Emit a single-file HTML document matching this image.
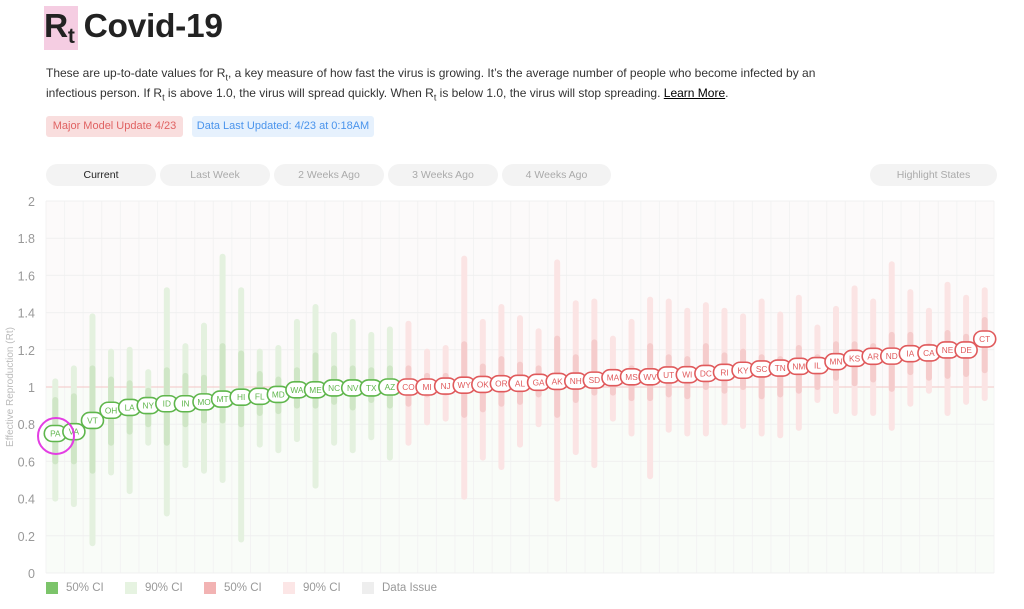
<!DOCTYPE html>
<html><head><meta charset="utf-8">
<style>
body{margin:0;width:1024px;height:609px;background:#fff;font-family:"Liberation Sans",sans-serif;position:relative;overflow:hidden;color:#222}
.abs{position:absolute}
.rt{left:44px;top:6px;width:34px;height:44px;background:#f5cde2}
h1{position:absolute;left:44px;top:5px;margin:0;font-size:33.5px;font-weight:bold;letter-spacing:-0.3px;color:#222;line-height:44px}
h1 sub{font-size:21px;vertical-align:-6px;line-height:0}
p{position:absolute;left:46px;top:63px;margin:0;font-size:12px;line-height:20px;color:#333;width:790px}
p sub{font-size:9px;line-height:0}
.badge{top:116px;height:21px;border-radius:3px;font-size:11px;line-height:21px;text-align:center}
.btn{top:164px;height:22px;border-radius:11px;background:#f3f3f3;font-size:10.5px;line-height:22px;text-align:center;color:#aaa}
.leg{top:582px;width:12px;height:12px}
.lt{top:582px;font-size:11.5px;color:#999}
</style></head><body>
<div class="abs rt"></div>
<h1>R<sub>t</sub> Covid-19</h1>
<p>These are up-to-date values for R<sub>t</sub>, a key measure of how fast the virus is growing. It’s the average number of people who become infected by an infectious person. If R<sub>t</sub> is above 1.0, the virus will spread quickly. When R<sub>t</sub> is below 1.0, the virus will stop spreading. <u style="color:#000">Learn More</u>.</p>
<div class="abs badge" style="left:46px;width:137px;background:#f9dede;color:#e06262">Major Model Update 4/23</div>
<div class="abs badge" style="left:192px;width:182px;background:#e6f1fd;color:#4a94ec">Data Last Updated: 4/23 at 0:18AM</div>
<div class="abs btn" style="left:46px;width:110px;color:#222">Current</div>
<div class="abs btn" style="left:160px;width:110px">Last Week</div>
<div class="abs btn" style="left:274px;width:110px">2 Weeks Ago</div>
<div class="abs btn" style="left:388px;width:110px">3 Weeks Ago</div>
<div class="abs btn" style="left:502px;width:109px">4 Weeks Ago</div>
<div class="abs btn" style="left:870px;width:127px">Highlight States</div>
<svg id="c" class="abs" style="left:0;top:190px" width="1024" height="390"></svg>
<div class="abs leg" style="left:46px;background:#7cc46a"></div><div class="abs lt" style="left:66px">50% CI</div>
<div class="abs leg" style="left:125px;background:#e6f3e1"></div><div class="abs lt" style="left:145px">90% CI</div>
<div class="abs leg" style="left:204px;background:#f2b3b3"></div><div class="abs lt" style="left:224px">50% CI</div>
<div class="abs leg" style="left:283px;background:#fce6e6"></div><div class="abs lt" style="left:303px">90% CI</div>
<div class="abs leg" style="left:362px;background:#eeeeee"></div><div class="abs lt" style="left:382px">Data Issue</div>
<script>
var D=[["PA",.75,.6,.93,.4,1.03],["VA",.76,.6,.95,.37,1.1],["VT",.82,.55,1.1,.16,1.38],["OH",.875,.7,1.04,.54,1.19],["LA",.89,.76,1.02,.44,1.2],["NY",.9,.8,.98,.7,1.08],["ID",.91,.7,1.09,.32,1.52],["IN",.91,.8,1.06,.58,1.22],["MO",.92,.82,1.05,.55,1.33],["MT",.935,.82,1.22,.5,1.7],["HI",.945,.8,1.18,.18,1.52],["FL",.95,.86,1.07,.69,1.19],["MD",.96,.87,1.04,.66,1.21],["WA",.985,.9,1.09,.72,1.35],["ME",.985,.9,1.17,.47,1.43],["NC",.995,.92,1.1,.7,1.28],["NV",.995,.89,1.1,.66,1.35],["TX",.995,.93,1.09,.73,1.28],["AZ",1.0,.9,1.1,.62,1.31],
["CO",1.0,.91,1.1,.7,1.34],["MI",1.0,.96,1.06,.81,1.19],["NJ",1.005,.97,1.06,.83,1.21],["WY",1.01,.85,1.23,.41,1.69],["OK",1.014,.88,1.11,.62,1.35],["OR",1.018,.91,1.15,.57,1.43],["AL",1.02,.92,1.12,.69,1.37],["GA",1.025,.96,1.1,.8,1.3],["AK",1.03,.85,1.26,.4,1.67],["NH",1.032,.93,1.16,.65,1.45],["SD",1.037,.97,1.24,.58,1.46],["MA",1.05,.97,1.08,.83,1.26],["MS",1.055,.94,1.1,.75,1.35],["WV",1.055,.94,1.22,.52,1.47],["UT",1.065,.96,1.16,.77,1.46],["WI",1.066,.95,1.15,.75,1.41],["DC",1.073,1.0,1.22,.75,1.44],["RI",1.079,.98,1.17,.81,1.41],["KY",1.09,1.0,1.19,.79,1.38],["SC",1.097,.95,1.16,.75,1.46],["TN",1.102,.96,1.15,.74,1.39],["NM",1.111,.98,1.21,.78,1.48],["IL",1.115,1.0,1.16,.93,1.32],["MN",1.136,1.05,1.23,.87,1.42],["KS",1.154,1.02,1.23,.86,1.53],["AR",1.165,1.04,1.22,.86,1.46],["ND",1.166,.99,1.28,.78,1.66],["IA",1.179,1.08,1.28,.91,1.51],["CA",1.183,1.05,1.22,.98,1.41],["NE",1.199,1.06,1.29,.86,1.55],["DE",1.199,1.07,1.27,.92,1.48],["CT",1.258,1.09,1.36,.94,1.52]];
var oy=190;function Y(v){return 573-186*v-oy}
var L=46,R=994,w=(R-L)/51,s='';
s+='<rect x="'+L+'" y="'+Y(2)+'" width="'+(R-L)+'" height="'+(Y(1)-Y(2))+'" fill="#fcfafa"/>';
s+='<rect x="'+L+'" y="'+Y(1)+'" width="'+(R-L)+'" height="'+(Y(0)-Y(1))+'" fill="#f9fcf8"/>';
for(var i=0;i<=51;i++){var x=L+i*w;s+='<line x1="'+x+'" x2="'+x+'" y1="'+Y(2)+'" y2="'+Y(0)+'" stroke="#f3f3f3" stroke-width="1"/>';}
for(var k=0;k<=10;k++){var v=k*0.2,y=Y(v);s+='<line x1="'+L+'" x2="'+R+'" y1="'+y+'" y2="'+y+'" stroke="'+(k==5?'#f3c6c6':'#f0f0f0')+'"/>';
s+='<text x="35" y="'+(y+5)+'" text-anchor="end" font-size="12.5" fill="#999" font-family="Liberation Sans">'+(k==0?'0':k==5?'1':k==10?'2':v.toFixed(1))+'</text>';}
s+='<text transform="translate(13,'+Y(1)+') rotate(-90)" text-anchor="middle" font-size="10" fill="#bbb" font-family="Liberation Sans">Effective Reproduction (Rt)</text>';
D.forEach(function(d,i){var x=L+w/2+i*w,g=i<19;
s+='<line x1="'+x+'" x2="'+x+'" y1="'+Y(d[5])+'" y2="'+Y(d[4])+'" stroke="'+(g?'#e4f1df':'#fbe4e4')+'" stroke-width="6" stroke-linecap="round"/>';
s+='<line x1="'+x+'" x2="'+x+'" y1="'+Y(d[3])+'" y2="'+Y(d[2])+'" stroke="'+(g?'#cfe6c6':'#f5cccc')+'" stroke-width="6" stroke-linecap="round"/>';});
D.forEach(function(d,i){var x=L+w/2+i*w,g=i<19,c=g?'#5fb64c':'#e05a5c',y=Y(d[1]);
s+='<rect x="'+(x-11)+'" y="'+(y-8)+'" width="22" height="16" rx="8" fill="#fff" stroke="'+c+'" stroke-width="1.6"/>';
s+='<text x="'+x+'" y="'+(y+3)+'" text-anchor="middle" font-size="8.3" fill="'+c+'" font-family="Liberation Sans">'+d[0]+'</text>';});
s+='<circle cx="56" cy="'+(436-oy)+'" r="18" fill="none" stroke="#e33ee3" stroke-width="2"/>';
document.getElementById('c').innerHTML=s;
</script>
</body></html>
